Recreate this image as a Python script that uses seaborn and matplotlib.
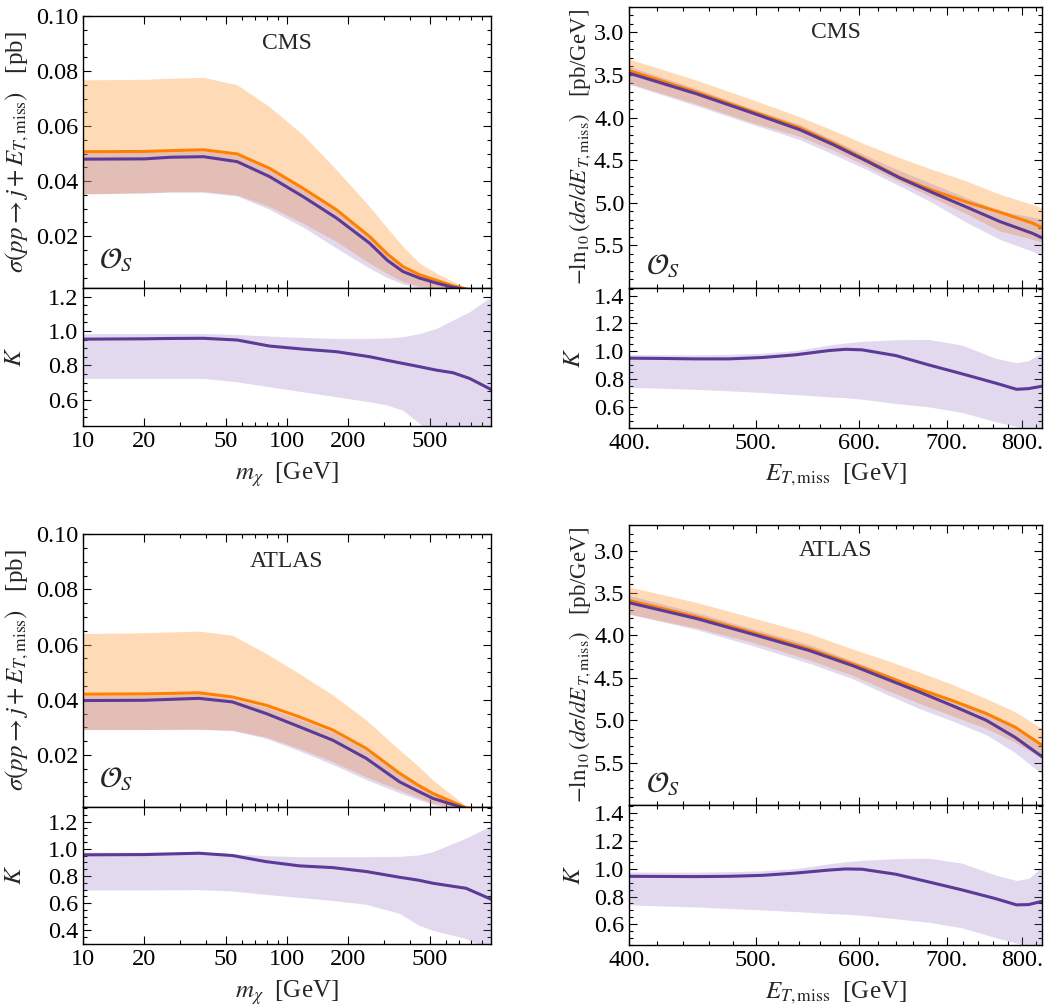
import numpy as np
import pandas as pd
import matplotlib
matplotlib.use("Agg")
import matplotlib.pyplot as plt
import seaborn as sns
from matplotlib.ticker import FixedLocator, FixedFormatter, MultipleLocator, LogLocator, NullFormatter

# ---------------- data ----------------
m_cms = [10, 20, 27, 39, 57, 82, 120, 175, 254, 310, 370, 447, 540, 651, 785, 1000]
cms_sig_lo = [0.0507, 0.0508, 0.0511, 0.0514, 0.0499, 0.0447, 0.0374, 0.0296, 0.0199, 0.0136, 0.0090, 0.0060, 0.0040, 0.0020, 0.0006, 0.0]
cms_sig_lo_up = [0.0768, 0.0770, 0.0774, 0.0777, 0.0750, 0.0671, 0.0568, 0.0441, 0.0308, 0.0230, 0.0163, 0.0102, 0.0066, 0.0036, 0.0008, 0.0]
cms_sig_lo_dn = [0.0354, 0.0358, 0.0362, 0.0362, 0.0350, 0.0308, 0.0247, 0.0181, 0.0102, 0.0065, 0.0036, 0.0018, 0.0010, 0.0005, 0.0, 0.0]
cms_sig_nlo = [0.0480, 0.0481, 0.0487, 0.0489, 0.0471, 0.0417, 0.0344, 0.0266, 0.0175, 0.0113, 0.0072, 0.0048, 0.0030, 0.0015, 0.0004, 0.0]
cms_sig_nlo_up = [0.0503, 0.0504, 0.0507, 0.0510, 0.0494, 0.0441, 0.0368, 0.0290, 0.0193, 0.0130, 0.0085, 0.0056, 0.0037, 0.0018, 0.0005, 0.0]
cms_sig_nlo_dn = [0.0354, 0.0357, 0.0360, 0.0360, 0.0346, 0.0298, 0.0233, 0.0157, 0.0084, 0.0050, 0.0027, 0.0012, 0.0005, 0.0002, 0.0, 0.0]
cms_k = [0.953, 0.955, 0.957, 0.958, 0.948, 0.913, 0.895, 0.880, 0.851, 0.830, 0.812, 0.793, 0.773, 0.758, 0.725, 0.661]
cms_k_up = [0.985, 0.986, 0.986, 0.986, 0.980, 0.971, 0.963, 0.957, 0.957, 0.960, 0.967, 0.986, 1.015, 1.064, 1.112, 1.199]
cms_k_dn = [0.725, 0.725, 0.725, 0.725, 0.705, 0.676, 0.647, 0.618, 0.589, 0.570, 0.540, 0.463, 0.360, 0.300, 0.250, 0.200]

m_atl = [10, 20, 37, 54, 79, 115, 168, 245, 357, 440, 520, 755, 1000]
atl_sig_lo = [0.0420, 0.0421, 0.0425, 0.0410, 0.0380, 0.0338, 0.0290, 0.0223, 0.0133, 0.0090, 0.0060, 0.0008, 0.0]
atl_sig_lo_up = [0.0640, 0.0643, 0.0649, 0.0634, 0.0568, 0.0495, 0.0417, 0.0326, 0.0217, 0.0160, 0.0108, 0.0015, 0.0]
atl_sig_lo_dn = [0.0292, 0.0292, 0.0293, 0.0290, 0.0265, 0.0223, 0.0175, 0.0120, 0.0072, 0.0045, 0.0025, 0.0, 0.0]
atl_sig_nlo = [0.0397, 0.0398, 0.0405, 0.0392, 0.0350, 0.0302, 0.0253, 0.0187, 0.0102, 0.0068, 0.0042, 0.0005, 0.0]
atl_sig_nlo_up = [0.0415, 0.0416, 0.0420, 0.0404, 0.0372, 0.0330, 0.0283, 0.0216, 0.0128, 0.0088, 0.0057, 0.0008, 0.0]
atl_sig_nlo_dn = [0.0292, 0.0292, 0.0293, 0.0288, 0.0260, 0.0215, 0.0165, 0.0110, 0.0062, 0.0038, 0.0020, 0.0, 0.0]
atl_k = [0.956, 0.958, 0.968, 0.951, 0.906, 0.875, 0.862, 0.833, 0.791, 0.770, 0.747, 0.710, 0.630]
atl_k_up = [0.976, 0.976, 0.975, 0.965, 0.950, 0.943, 0.943, 0.943, 0.945, 0.955, 0.980, 1.080, 1.170]
atl_k_dn = [0.697, 0.698, 0.700, 0.690, 0.665, 0.643, 0.620, 0.592, 0.525, 0.440, 0.400, 0.340, 0.250]

e_cms = [400, 450, 497, 540, 573, 608, 644, 683, 725, 769, 815, 828]
cms_ds_lo = [3.45, 3.70, 3.93, 4.12, 4.30, 4.50, 4.70, 4.855, 4.99, 5.11, 5.24, 5.29]
cms_ds_lo_up = [3.315, 3.56, 3.79, 3.99, 4.15, 4.32, 4.47, 4.61, 4.745, 4.90, 5.02, 5.06]
cms_ds_lo_dn = [3.60, 3.84, 4.06, 4.22, 4.38, 4.57, 4.75, 4.94, 5.13, 5.33, 5.43, 5.465]
cms_ds_nlo = [3.48, 3.72, 3.946, 4.141, 4.317, 4.511, 4.706, 4.881, 5.05, 5.22, 5.36, 5.41]
cms_ds_nlo_up = [3.40, 3.66, 3.90, 4.08, 4.26, 4.45, 4.62, 4.78, 4.94, 5.095, 5.17, 5.19]
cms_ds_nlo_dn = [3.61, 3.86, 4.08, 4.258, 4.43, 4.61, 4.80, 5.00, 5.23, 5.43, 5.57, 5.62]

e_atl = [400, 450, 497, 550, 593, 629, 667, 708, 751, 790, 828]
atl_ds_lo = [3.588, 3.78, 3.965, 4.16, 4.335, 4.48, 4.63, 4.77, 4.92, 5.08, 5.29]
atl_ds_lo_up = [3.43, 3.61, 3.79, 3.98, 4.16, 4.29, 4.43, 4.58, 4.745, 4.90, 5.095]
atl_ds_lo_dn = [3.75, 3.91, 4.08, 4.29, 4.47, 4.64, 4.80, 4.95, 5.095, 5.26, 5.445]
atl_ds_nlo = [3.615, 3.80, 3.985, 4.18, 4.355, 4.51, 4.665, 4.83, 5.00, 5.20, 5.425]
atl_ds_nlo_up = [3.53, 3.73, 3.92, 4.11, 4.30, 4.45, 4.61, 4.76, 4.92, 5.09, 5.29]
atl_ds_nlo_dn = [3.75, 3.93, 4.12, 4.33, 4.51, 4.69, 4.86, 5.01, 5.17, 5.38, 5.63]

e_ratio = [400, 424, 449, 477, 506, 536, 569, 586, 603, 640, 678, 719, 763, 792, 809, 828]
cms_ke = [0.950, 0.948, 0.945, 0.945, 0.955, 0.974, 1.005, 1.014, 1.010, 0.969, 0.902, 0.838, 0.771, 0.726, 0.731, 0.748]
cms_ke_up = [0.976, 0.975, 0.974, 0.978, 0.986, 1.005, 1.045, 1.060, 1.071, 1.083, 1.085, 1.045, 0.950, 0.917, 0.933, 0.988]
cms_ke_dn = [0.741, 0.733, 0.726, 0.715, 0.703, 0.688, 0.672, 0.665, 0.655, 0.624, 0.600, 0.560, 0.493, 0.457, 0.440, 0.440]
atl_ke = [0.945, 0.944, 0.943, 0.945, 0.952, 0.968, 0.990, 0.998, 0.996, 0.960, 0.905, 0.848, 0.785, 0.740, 0.742, 0.765]
atl_ke_up = [0.976, 0.975, 0.975, 0.978, 0.985, 1.000, 1.035, 1.050, 1.060, 1.072, 1.075, 1.040, 0.955, 0.915, 0.930, 1.010]
atl_ke_dn = [0.740, 0.732, 0.725, 0.714, 0.703, 0.692, 0.678, 0.672, 0.665, 0.640, 0.615, 0.575, 0.505, 0.465, 0.440, 0.440]

x_left_ticks = [10, 20, 50, 100, 200, 500]
x_left_labels = ["10", "20", "50", "100", "200", "500"]
x_right_ticks = [400, 500, 600, 700, 800]
x_right_labels = ["400.", "500.", "600.", "700.", "800."]

# ---------------- style ----------------
sns.set_theme(style="ticks")
plt.rcParams["font.family"] = ["Liberation Serif", "DejaVu Serif"]
plt.rcParams["mathtext.fontset"] = "stix"

ORANGE_LINE = "#ff8000"
PURPLE = "#5b3a98"
ORANGE_BAND = (1.0, 0.62, 0.25)
PURPLE_BAND = (0.55, 0.42, 0.74)
TFS = 17.5
LFS = 18

fig = plt.figure(figsize=(10.54, 10.06), dpi=100)

def style_axes(ax):
    ax.tick_params(which="both", direction="in", top=True, right=True,
                   labelsize=TFS, colors="black", width=0.8)
    ax.tick_params(which="major", length=6)
    ax.tick_params(which="minor", length=3)
    for s in ax.spines.values():
        s.set_color("black")
        s.set_linewidth(1.0)

def draw_main(ax, x, lo, lo_up, lo_dn, nlo, nlo_up, nlo_dn):
    ax.fill_between(x, lo_dn, lo_up, color=ORANGE_BAND, alpha=0.38, lw=0)
    ax.fill_between(x, nlo_dn, nlo_up, color=PURPLE_BAND, alpha=0.25, lw=0)
    sns.lineplot(x=x, y=lo, ax=ax, color=ORANGE_LINE, lw=2.2)
    sns.lineplot(x=x, y=nlo, ax=ax, color=PURPLE, lw=2.2)

def draw_ratio(ax, x, k, k_up, k_dn):
    ax.fill_between(x, k_dn, k_up, color=PURPLE_BAND, alpha=0.25, lw=0)
    sns.lineplot(x=x, y=k, ax=ax, color=PURPLE, lw=2.2)

def left_pair(main_pos, ratio_pos, title, mx, sig, k, kylim, kticks):
    ax = fig.add_axes(main_pos)
    axr = fig.add_axes(ratio_pos, sharex=ax)
    draw_main(ax, mx, *sig)
    draw_ratio(axr, mx, *k)
    for a in (ax, axr):
        a.set_xscale("log")
        a.set_xlim(10, 1000)
        style_axes(a)
    ax.set_ylim(0.0012, 0.10)
    ax.yaxis.set_major_locator(FixedLocator([0.02, 0.04, 0.06, 0.08, 0.10]))
    ax.yaxis.set_major_formatter(FixedFormatter(["0.02", "0.04", "0.06", "0.08", "0.10"]))
    ax.yaxis.set_minor_locator(MultipleLocator(0.005))
    ax.tick_params(labelbottom=False)
    axr.xaxis.set_major_locator(FixedLocator(x_left_ticks))
    axr.xaxis.set_major_formatter(FixedFormatter(x_left_labels))
    axr.xaxis.set_minor_locator(LogLocator(base=10, subs=np.arange(2, 10)))
    axr.xaxis.set_minor_formatter(NullFormatter())
    axr.set_ylim(*kylim)
    axr.yaxis.set_major_locator(FixedLocator(kticks))
    axr.yaxis.set_major_formatter(FixedFormatter([f"{t:.1f}" for t in kticks]))
    axr.yaxis.set_minor_locator(MultipleLocator(0.05))
    ax.set_ylabel(r"$\sigma(pp \rightarrow j + E_{T,\mathrm{miss}})$   [pb]", fontsize=LFS)
    ax.yaxis.set_label_coords(-0.128, 0.5)
    axr.set_ylabel(r"$K$", fontsize=LFS)
    axr.yaxis.set_label_coords(-0.14, 0.5)
    axr.set_xlabel(r"$m_\chi$  [GeV]", fontsize=LFS, labelpad=6)
    ax.set_xlabel("")
    ax.text(0.5, 0.90, title, transform=ax.transAxes, ha="center", va="center", fontsize=17)
    ax.text(0.04, 0.10, r"$\mathcal{O}_S$", transform=ax.transAxes, ha="left", va="center", fontsize=21)

def right_pair(main_pos, ratio_pos, title, ex, ds, k):
    ax = fig.add_axes(main_pos)
    axr = fig.add_axes(ratio_pos, sharex=ax)
    draw_main(ax, ex, *ds)
    draw_ratio(axr, e_ratio, *k)
    for a in (ax, axr):
        a.set_xscale("log")
        a.set_xlim(400, 828)
        style_axes(a)
    ax.set_ylim(6.0, 2.7)
    ax.yaxis.set_major_locator(FixedLocator([3.0, 3.5, 4.0, 4.5, 5.0, 5.5]))
    ax.yaxis.set_major_formatter(FixedFormatter(["3.0", "3.5", "4.0", "4.5", "5.0", "5.5"]))
    ax.yaxis.set_minor_locator(MultipleLocator(0.1))
    ax.tick_params(labelbottom=False)
    axr.xaxis.set_major_locator(FixedLocator(x_right_ticks))
    axr.xaxis.set_major_formatter(FixedFormatter(x_right_labels))
    axr.xaxis.set_minor_locator(FixedLocator(list(range(420, 828, 20))))
    axr.xaxis.set_minor_formatter(NullFormatter())
    axr.set_ylim(0.45, 1.455)
    kt = [0.6, 0.8, 1.0, 1.2, 1.4]
    axr.yaxis.set_major_locator(FixedLocator(kt))
    axr.yaxis.set_major_formatter(FixedFormatter([f"{t:.1f}" for t in kt]))
    axr.yaxis.set_minor_locator(MultipleLocator(0.05))
    ax.set_ylabel(r"$-\ln_{10}(d\sigma/dE_{\,T,\mathrm{miss}})$   [pb/GeV]", fontsize=16.5)
    ax.yaxis.set_label_coords(-0.088, 0.5)
    axr.set_ylabel(r"$K$", fontsize=LFS)
    axr.yaxis.set_label_coords(-0.107, 0.5)
    axr.set_xlabel(r"$E_{T,\mathrm{miss}}$  [GeV]", fontsize=LFS, labelpad=6)
    ax.set_xlabel("")
    ax.text(0.5, 0.91, title, transform=ax.transAxes, ha="center", va="center", fontsize=17)
    ax.text(0.04, 0.075, r"$\mathcal{O}_S$", transform=ax.transAxes, ha="left", va="center", fontsize=21)

left_pair([0.0787, 0.7137, 0.3871, 0.2704], [0.0787, 0.5768, 0.3871, 0.1369], "CMS", m_cms,
          (cms_sig_lo, cms_sig_lo_up, cms_sig_lo_dn, cms_sig_nlo, cms_sig_nlo_up, cms_sig_nlo_dn),
          (cms_k, cms_k_up, cms_k_dn), (0.45, 1.25), [0.6, 0.8, 1.0, 1.2])
left_pair([0.0787, 0.1981, 0.3871, 0.2708], [0.0787, 0.0616, 0.3871, 0.1365], "ATLAS", m_atl,
          (atl_sig_lo, atl_sig_lo_up, atl_sig_lo_dn, atl_sig_nlo, atl_sig_nlo_up, atl_sig_nlo_dn),
          (atl_k, atl_k_up, atl_k_dn), (0.3, 1.31), [0.4, 0.6, 0.8, 1.0, 1.2])
right_pair([0.5971, 0.7137, 0.3913, 0.2796], [0.5971, 0.5749, 0.3913, 0.1388], "CMS", e_cms,
           (cms_ds_lo, cms_ds_lo_up, cms_ds_lo_dn, cms_ds_nlo, cms_ds_nlo_up, cms_ds_nlo_dn),
           (cms_ke, cms_ke_up, cms_ke_dn))
right_pair([0.5971, 0.1995, 0.3913, 0.2786], [0.5971, 0.0604, 0.3913, 0.1391], "ATLAS", e_atl,
           (atl_ds_lo, atl_ds_lo_up, atl_ds_lo_dn, atl_ds_nlo, atl_ds_nlo_up, atl_ds_nlo_dn),
           (atl_ke, atl_ke_up, atl_ke_dn))

fig.savefig("out.png", dpi=100)
